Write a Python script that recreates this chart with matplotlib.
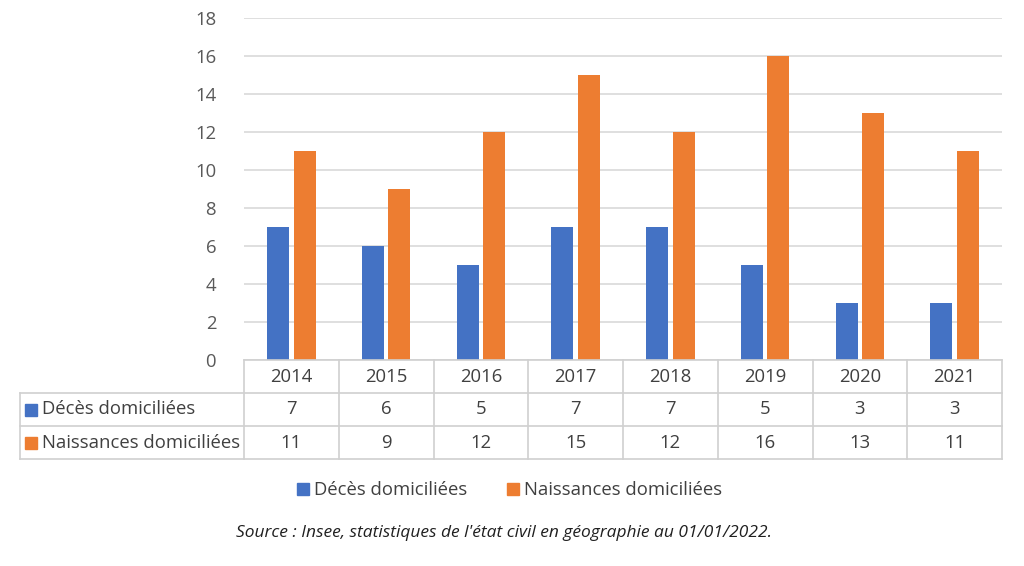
import matplotlib
matplotlib.use("Agg")
import matplotlib.pyplot as plt
from matplotlib.lines import Line2D

plt.rcParams['font.family'] = ['Open Sans', 'DejaVu Sans']

years = ["2014", "2015", "2016", "2017", "2018", "2019", "2020", "2021"]
deces = [7, 6, 5, 7, 7, 5, 3, 3]
naissances = [11, 9, 12, 15, 12, 16, 13, 11]
series_names = ["Décès domiciliées", "Naissances domiciliées"]
yticks = [0, 2, 4, 6, 8, 10, 12, 14, 16, 18]
source = "Source : Insee, statistiques de l'état civil en géographie au 01/01/2022."

BLUE = "#4472C4"
ORANGE = "#ED7D31"
GRID = "#D9D9D9"
TXT = "#404040"
FS = 13.3

W, H = 1024, 566
fig = plt.figure(figsize=(W / 100, H / 100), dpi=100)

L, R, T, B = 244, 1002, 18, 360
ax = fig.add_axes([L / W, 1 - B / H, (R - L) / W, (B - T) / H])
x = list(range(len(years)))
bw = 0.23
ax.bar([i - 0.14 for i in x], deces, width=bw, color=BLUE, zorder=3)
ax.bar([i + 0.14 for i in x], naissances, width=bw, color=ORANGE, zorder=3)
ax.set_xlim(-0.5, len(years) - 0.5)
ax.set_ylim(0, 18)
ax.set_yticks(yticks)
ax.set_yticklabels([str(v) for v in yticks], fontsize=FS, color="#595959")
ax.set_xticks([])
ax.tick_params(axis="y", length=0, pad=20)
ax.grid(axis="y", color=GRID, linewidth=1.2, zorder=0)
for s in ax.spines.values():
    s.set_visible(False)

# data table
TB = 459
tab = fig.add_axes([L / W, 1 - TB / H, (R - L) / W, (TB - B) / H])
tab.set_xlim(-0.5, len(years) - 0.5)
tab.set_ylim(3, 0)
tab.axis("off")
cu = (R - L) / len(years)
xl = -0.5 + (20 - L) / cu
lc = "#D0D0D0"
tab.plot([-0.5, len(years) - 0.5], [0, 0], color=lc, lw=1.2, clip_on=False)
for yy in [1, 2, 3]:
    tab.plot([xl, len(years) - 0.5], [yy, yy], color=lc, lw=1.2, clip_on=False)
for k in range(len(years) + 1):
    tab.plot([k - 0.5, k - 0.5], [0, 3], color=lc, lw=1.2, clip_on=False)
tab.plot([xl, xl], [1, 3], color=lc, lw=1.2, clip_on=False)
for i, yr in enumerate(years):
    tab.text(i, 0.5, yr, ha="center", va="center", fontsize=FS, color=TXT)
    tab.text(i, 1.5, str(deces[i]), ha="center", va="center", fontsize=FS, color=TXT)
    tab.text(i, 2.5, str(naissances[i]), ha="center", va="center", fontsize=FS, color=TXT)
mx = -0.5 + (31 - L) / cu
tx = -0.5 + (42 - L) / cu
for row, (name, col) in enumerate(zip(series_names, [BLUE, ORANGE])):
    tab.plot([mx], [1.5 + row], marker="s", ms=8.5, color=col, clip_on=False)
    tab.text(tx, 1.5 + row, name, ha="left", va="center", fontsize=FS, color=TXT)

handles = [Line2D([], [], marker="s", ls="", ms=9, color=BLUE),
           Line2D([], [], marker="s", ls="", ms=9, color=ORANGE)]
fig.legend(handles, series_names, loc="center", bbox_to_anchor=(508 / W, 1 - 490 / H),
           ncol=2, frameon=False, fontsize=FS, labelcolor=TXT, handletextpad=0.1,
           columnspacing=2.0, handlelength=1.0)

fig.text(504 / W, 1 - 533 / H, source, ha="center", va="center", fontsize=12.5,
         style="italic", color="#202020")

fig.savefig("out.png", dpi=100)
